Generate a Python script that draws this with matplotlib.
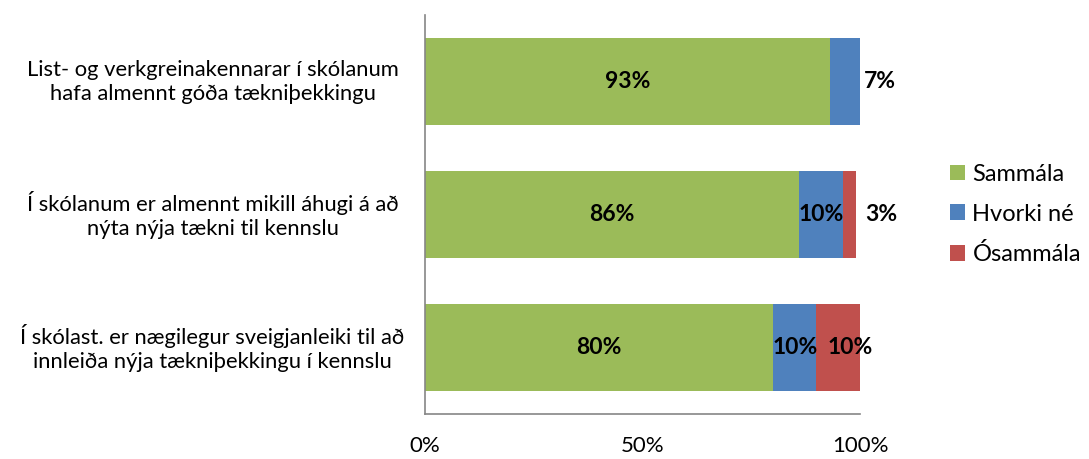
import matplotlib
matplotlib.use("Agg")
import matplotlib.pyplot as plt
import numpy as np

plt.rcParams['font.family'] = ['Lato', 'DejaVu Sans']

# survey statements, bottom to top as drawn
categories = [
    "Í skólast. er nægilegur sveigjanleiki til að\ninnleiða nýja tækniþekkingu í kennslu",
    "Í skólanum er almennt mikill áhugi á að\nnýta nýja tækni til kennslu",
    "List- og verkgreinakennarar í skólanum\nhafa almennt góða tækniþekkingu",
]
sammala = [80, 86, 93]
hvorki = [10, 10, 7]
osammala = [10, 3, 0]
series_names = ["Sammála", "Hvorki né", "Ósammála"]
colors = ["#9BBB59", "#4F81BD", "#C0504D"]

fig = plt.figure(figsize=(10.89, 4.59), dpi=100)
ax = fig.add_axes([0.3903, 0.098, 0.3994, 0.869])

y = np.arange(len(categories))
h = 0.65
left = np.zeros(len(categories))
for vals, name, c in zip([sammala, hvorki, osammala], series_names, colors):
    ax.barh(y, vals, left=left, height=h, color=c, label=name)
    left = left + np.array(vals)

# data labels (positions nudged like the original)
lab_kw = dict(fontsize=16.5, fontweight='bold', va='center', color='black')
for i in range(len(categories)):
    ax.text(sammala[i] / 2, y[i], f"{sammala[i]}%", ha='center', **lab_kw)
    if osammala[i] == 0:
        ax.text(100.8, y[i], f"{hvorki[i]}%", ha='left', **lab_kw)
    else:
        ax.text(sammala[i] + hvorki[i] / 2, y[i], f"{hvorki[i]}%", ha='center', **lab_kw)
        if osammala[i] < 5:
            ax.text(101.2, y[i], f"{osammala[i]}%", ha='left', **lab_kw)
        else:
            ax.text(sammala[i] + hvorki[i] + osammala[i] / 2 + 2.8, y[i],
                    f"{osammala[i]}%", ha='center', **lab_kw)

ax.set_xlim(0, 100)
ax.set_ylim(-0.5, 2.5)
ax.set_xticks([0, 50, 100])
ax.set_xticklabels(["0%", "50%", "100%"], fontsize=16)
ax.set_yticks(y)
ax.set_yticklabels(categories, fontsize=15.8, ha='center', va='center',
                   linespacing=1.25)
ax.tick_params(axis='y', length=0, pad=153)
ax.tick_params(axis='x', length=0, pad=16)

for s in ['top', 'right']:
    ax.spines[s].set_visible(False)
for s in ['left', 'bottom']:
    ax.spines[s].set_color('#868686')
    ax.spines[s].set_linewidth(1.2)

ax.legend(loc='center left', bbox_to_anchor=(1.158, 0.5), frameon=False,
          fontsize=17, handlelength=0.65, handleheight=0.65, handletextpad=0.3,
          labelspacing=0.8)

fig.savefig("out.png", dpi=100)
